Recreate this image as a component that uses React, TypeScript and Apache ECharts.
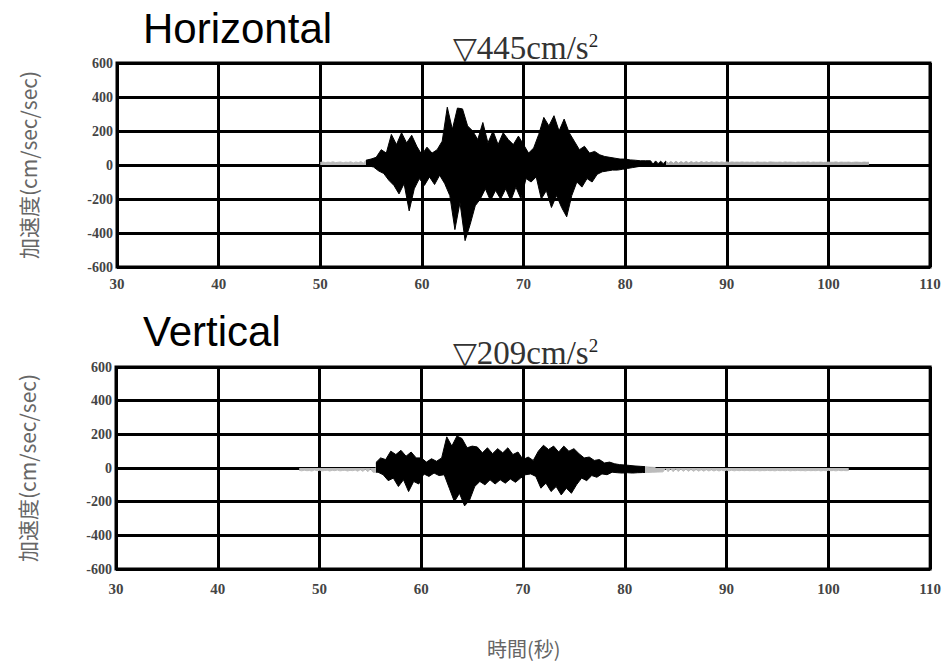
import React, { useEffect, useRef } from "react";
import * as echarts from "echarts";

// ---- axis settings ----
const xTicksMin = 30;
const xTicksMax = 110;
const xInterval = 10;
const yMin = -600;
const yMax = 600;
const yInterval = 200;

// ---- Horizontal component (cm/s^2), sampled every 0.25 s from 50 s ----
const hStart = 50;
const hStep = 0.25;
const hValues = [
  15, 18, 14, 17, 15, 19, 14, 16, 18, 13, 17, 15, 19, 12, 18, 14, 20, 10,
  28, -5, 35, -12,
  45, -35, 90, -50, 70, -90,
  180, -120, 120, -170, 190, -110, 130, -270, 175, -140,
  110, -80, 60, -120, 105, -70, 70, -115, 90, -60,
  140, -110,
  340, -180, 210, -380, 335, -220, 330, -445, 230, -350, 200, -240,
  150, -200, 250, -140, 130, -210, 200, -150, 120, -200, 190, -140, 150, -210, 120, -130, 170, -200,
  120, -80, 70, -100, 100, -70,
  180, -200, 280, -150, 230, -250, 290, -180, 200, -250, 270, -305, 190, -180,
  140, -100, 90, -130, 110, -80, 70, -100, 80, -55,
  60, -40, 50, -35, 45, -30, 40, -30, 35, -25, 35, -20, 30, -15, 28, -10, 25, -5, 25, 0,
  25, 5, 24, 8, 22, 8, 23, 10, 21, 10,
  22, 11, 20, 12, 21, 12, 20, 13, 19, 13,
  20, 14, 19, 14, 19, 15, 18, 15, 18, 15,
  18, 15, 18, 16, 17, 16, 18, 16, 17, 16,
  17, 15, 18, 16, 16, 17, 15, 18, 17, 16,
  16, 17, 15, 18, 16, 17, 16, 15, 17, 16,
  17, 16, 18, 15, 17, 16, 16, 17, 15, 16,
  17, 16, 16, 18, 15, 17, 16, 16, 17, 15,
  16, 17, 16, 15, 17, 16, 16,
];

// ---- Vertical component (cm/s^2), sampled every 0.25 s from 48 s ----
const vStart = 48;
const vStep = 0.25;
const vValues = [
  -14, -17, -13, -16, -15, -18, -12, -16, -14, -17,
  -15, -13, -18, -14, -16, -12, -17, -15, -13, -18,
  -14, -16, -12, -19, -10, -20, -8, -22, -5, -25,
  30, -25, 60, -40, 50, -75, 100, -60, 80, -110, 105, -70, 70, -140, 95, -80, 60, -95,
  60, -35, 35, -50, 55, -30, 40, -45, 60, -40,
  185, -120, 130, -200, 190, -150, 175, -225, 120, -190, 130, -110,
  125, -80, 90, -100, 120, -70, 85, -95, 115, -70, 90, -90, 120, -65, 80, -85, 95, -60,
  50, -40, 65, -35, 45, -50,
  100, -120, 135, -90, 110, -140, 130, -110, 95, -160, 130, -120, 100, -150, 115, -100,
  85, -60, 60, -75, 65, -45, 45, -55, 50, -35, 30, -40, 35, -25,
  25, -28, 20, -30, 18, -28, 15, -30, 12, -28,
  10, -27, 8, -26, 5, -25, 3, -24, 0, -23,
  -2, -22, -4, -22, -5, -21, -6, -20, -7, -20,
  -8, -20, -9, -19, -10, -19, -10, -18, -11, -18,
  -12, -18, -12, -17, -13, -17, -13, -17, -14, -16,
  -14, -16, -14, -16, -15, -16, -14, -17, -15, -16,
  -14, -16, -15, -17, -14, -16, -15, -16, -14, -17,
  -15, -16, -14, -16, -15, -17, -14, -16, -15, -16,
  -14, -17, -15, -16, -14, -16, -15, -17, -14, -16,
  -15, -16, -15,
];

// ---- texts ----
const titleH = "Horizontal";
const titleV = "Vertical";
const peakH = "445";
const peakV = "209";
const yAxisName = "加速度(cm/sec/sec)";
const xAxisName = "時間(秒)";

const toPairs = (start: number, step: number, vals: number[]) =>
  vals.map((v, i) => [start + i * step, v]);

export default function App() {
  const ref = useRef<HTMLDivElement>(null);

  useEffect(() => {
    if (!ref.current) return;
    const chart = echarts.init(ref.current, undefined, { renderer: "svg" });

    const xAxisBase = (margin: number, gridIndex: number) => ({
      type: "value",
      gridIndex,
      min: xTicksMin,
      max: xTicksMax,
      interval: xInterval,
      axisLine: { show: false },
      axisTick: { show: false },
      axisLabel: {
        margin,
        fontSize: 15,
        fontWeight: "bold",
        fontFamily: "Liberation Serif",
        color: "#444",
      },
      splitLine: { show: true, lineStyle: { color: "#000", width: 3 } },
    });

    const yAxisBase = (gridIndex: number) => ({
      type: "value",
      gridIndex,
      min: yMin,
      max: yMax,
      interval: yInterval,
      name: yAxisName,
      nameLocation: "middle",
      nameRotate: 90,
      nameGap: 79,
      nameTextStyle: {
        fontSize: 21,
        fontFamily: "Noto Sans CJK JP",
        color: "#666",
      },
      axisLine: { show: false },
      axisTick: { show: false },
      axisLabel: {
        margin: 4,
        fontSize: 14,
        fontWeight: "bold",
        fontFamily: "Liberation Serif",
        color: "#444",
      },
      splitLine: { show: true, lineStyle: { color: "#000", width: 3 } },
    });

    const peakText = (val: string, y: number) => ({
      type: "text",
      left: 453,
      top: y,
      style: {
        text: `{a|▽}{b|${val}cm/s}{c|2}`,
        rich: {
          a: { fontSize: 31, fontFamily: "DejaVu Sans", fill: "#333", color: "#333" },
          b: { fontSize: 33, fontFamily: "Liberation Serif", fill: "#333", color: "#333" },
          c: {
            fontSize: 19,
            fontFamily: "Liberation Serif",
            fill: "#222",
            color: "#222",
            verticalAlign: "top",
          },
        },
      },
    });

    const hPairs = toPairs(hStart, hStep, hValues);
    const vPairs = toPairs(vStart, vStep, vValues);

    // upper / lower envelopes of the trace, filled to zero -> solid band
    const envSeries = (pairs: number[][], axis: number) => {
      const up = pairs.filter((p) => p[1] > 0);
      const low = pairs.filter((p) => p[1] < 0);
      return [up, low].map((d) => ({
        type: "line",
        xAxisIndex: axis,
        yAxisIndex: axis,
        showSymbol: false,
        data: d,
        lineStyle: { width: 1 },
        areaStyle: { origin: 0, opacity: 1 },
        z: 5,
      }));
    };

    const option: any = {
      animation: false,
      backgroundColor: "#fff",
      grid: [
        {
          left: 117,
          top: 63,
          width: 813,
          height: 204,
          show: true,
          borderColor: "#000",
          borderWidth: 3,
          backgroundColor: "transparent",
        },
        {
          left: 116,
          top: 367,
          width: 821,
          height: 202,
          show: true,
          borderColor: "#000",
          borderWidth: 3,
          backgroundColor: "transparent",
        },
      ],
      xAxis: [xAxisBase(9, 0), xAxisBase(12, 1)],
      yAxis: [yAxisBase(0), yAxisBase(1)],
      visualMap: [
        {
          type: "piecewise",
          show: false,
          seriesIndex: [0, 1],
          dimension: 0,
          pieces: [
            { lt: 54.5, color: "#bbb" },
            { gte: 54.5, lt: 84, color: "#000" },
            { gte: 84, color: "#aaa" },
          ],
        },
        {
          type: "piecewise",
          show: false,
          seriesIndex: [2, 3],
          dimension: 0,
          pieces: [
            { lt: 55.5, color: "#bbb" },
            { gte: 55.5, lt: 82, color: "#000" },
            { gte: 82, color: "#bbb" },
          ],
        },
      ],
      series: [...envSeries(hPairs, 0), ...envSeries(vPairs, 1)],
      graphic: [
        {
          type: "text",
          left: 143,
          top: 7,
          style: {
            text: titleH,
            fontSize: 42,
            fontFamily: "Liberation Sans",
            fill: "#000",
          },
        },
        {
          type: "text",
          left: 143,
          top: 310,
          style: {
            text: titleV,
            fontSize: 42,
            fontFamily: "Liberation Sans",
            fill: "#000",
          },
        },
        peakText(peakH, 31),
        peakText(peakV, 336),
        {
          type: "text",
          left: 487,
          top: 638,
          style: {
            text: xAxisName,
            fontSize: 20,
            fontFamily: "Noto Sans CJK JP",
            fill: "#666",
          },
        },
      ],
    };

    chart.setOption(option);
    return () => chart.dispose();
  }, []);

  return (
    <div
      ref={ref}
      style={{ position: "fixed", left: 0, top: 0, width: 944, height: 662 }}
    />
  );
}
